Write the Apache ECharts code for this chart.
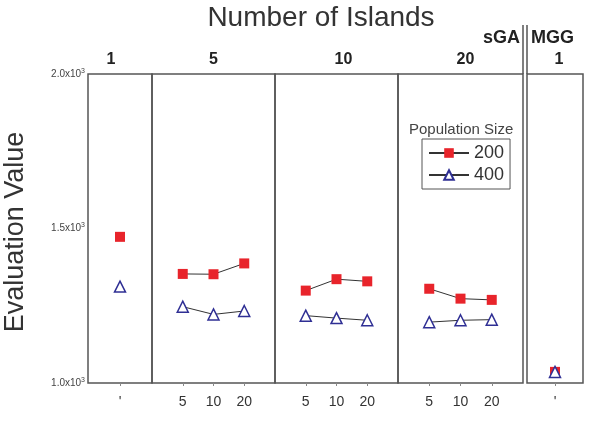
<!DOCTYPE html>
<html><head><meta charset="utf-8">
<script src="https://cdn.jsdelivr.net/npm/echarts@6/dist/echarts.min.js"></script>
<style>html,body{margin:0;padding:0;background:#fff}#c{width:592px;height:435px}</style>
</head><body><div id="c"></div>
<script>
// ---- data ----
const islandGroups = ['1', '5', '10', '20', '1'];
const panelCategories = [
  ["'"],
  ['5', '10', '20'],
  ['5', '10', '20'],
  ['5', '10', '20'],
  ["'"]
];
const pop200 = [[1473], [1353, 1352, 1387], [1299, 1336, 1329], [1305, 1273, 1269], [1036]];
const pop400 = [[1312], [1247, 1222, 1233], [1218, 1210, 1203], [1197, 1203, 1205], [1036]];
const seriesNames = ['200', '400'];
const yTicks = [1000, 1500, 2000];

// ---- layout ----
const gridLefts = [88, 152, 275, 398, 527];
const gridWidths = [64, 123, 123, 125, 56];
const groupNamePad = [[0, 18, 0, 0], [0, 0, 0, 0], [0, 0, 0, 14], [0, 0, 0, 10], [0, 0, 0, 8]];
const gridTop = 74, gridHeight = 309;

const grids = [], xAxes = [], yAxes = [], series = [];
const nP = islandGroups.length;
for (let i = 0; i < nP; i++) {
  grids.push({left: gridLefts[i], width: gridWidths[i], top: gridTop, height: gridHeight,
    show: true, borderColor: '#555', borderWidth: 1.5, backgroundColor: 'transparent'});
  const cats = [''].concat(panelCategories[i], ['']);
  xAxes.push({type: 'category', gridIndex: i, data: cats, boundaryGap: false,
    axisLine: {show: false},
    axisTick: {show: true, length: 3, interval: (idx, v) => v !== '', lineStyle: {color: '#888'}},
    axisLabel: {interval: 0, fontSize: 14, color: '#333', margin: 12, fontFamily: 'Liberation Sans'},
    splitLine: {show: false}});
}
for (let i = 0; i < nP; i++) {
  const cats = [''].concat(panelCategories[i], ['']);
  xAxes.push({type: 'category', gridIndex: i, data: cats, boundaryGap: false, position: 'top',
    axisLine: {show: false}, axisTick: {show: false}, axisLabel: {show: false},
    name: islandGroups[i], nameLocation: 'middle', nameGap: 6,
    nameTextStyle: {fontWeight: 'bold', fontSize: 16, color: '#222', fontFamily: 'Liberation Sans',
      padding: groupNamePad[i]}});
}
for (let i = 0; i < nP; i++) {
  yAxes.push({type: 'value', gridIndex: i, min: yTicks[0], max: yTicks[yTicks.length - 1],
    interval: yTicks[1] - yTicks[0],
    axisLine: {show: false}, splitLine: {show: false},
    axisTick: {show: false},
    axisLabel: {show: i === 0, margin: 3, fontSize: 10, color: '#444', fontFamily: 'Liberation Sans',
      formatter: v => (v / 1000).toFixed(1) + 'x10{s|3}',
      rich: {s: {fontSize: 7, verticalAlign: 'top', padding: [0, 0, 6, 0], color: '#444'}}}});
  const d200 = [null].concat(pop200[i], [null]);
  const d400 = [null].concat(pop400[i], [null]);
  series.push({type: 'line', name: seriesNames[0], xAxisIndex: i, yAxisIndex: i, data: d200,
    symbol: 'rect', symbolSize: 10, itemStyle: {color: '#e8242b'},
    lineStyle: {color: '#333', width: 1}, z: 2});
  series.push({type: 'line', name: seriesNames[1], xAxisIndex: i, yAxisIndex: i, data: d400,
    symbol: 'triangle', symbolSize: 11,
    itemStyle: {color: '#fff', borderColor: '#2f2f94', borderWidth: 1.5},
    lineStyle: {color: '#333', width: 1}, z: 3});
}

const chart = echarts.init(document.getElementById('c'), null, {renderer: 'canvas'});
chart.setOption({
  animation: false,
  backgroundColor: '#fff',
  title: {text: 'Number of Islands', left: 316, textAlign: 'center', top: -1,
    textStyle: {fontSize: 28, fontWeight: 'normal', color: '#333', fontFamily: 'Liberation Sans'}},
  legend: {data: seriesNames, orient: 'vertical', left: 422, top: 139,
    borderColor: '#555', borderWidth: 1, padding: [5, 6, 5, 6], itemGap: 4,
    itemWidth: 40, itemHeight: 12,
    textStyle: {fontSize: 18, color: '#333', fontFamily: 'Liberation Sans'}},
  grid: grids, xAxis: xAxes, yAxis: yAxes, series: series,
  graphic: [
    {type: 'text', x: 16, y: 232, rotation: Math.PI / 2,
      style: {text: 'Evaluation Value', fontSize: 27, fill: '#333', fontFamily: 'Liberation Sans',
        align: 'center', verticalAlign: 'middle'}},
    {type: 'text', left: 409, top: 122,
      style: {text: 'Population Size', fontSize: 15, fill: '#444', fontFamily: 'Liberation Sans'}},
    {type: 'text', right: 72, top: 29,
      style: {text: 'sGA', fontSize: 18, fontWeight: 'bold', fill: '#222', fontFamily: 'Liberation Sans'}},
    {type: 'text', left: 531, top: 29,
      style: {text: 'MGG', fontSize: 18, fontWeight: 'bold', fill: '#222', fontFamily: 'Liberation Sans'}},
    {type: 'line', shape: {x1: 523, y1: 25, x2: 523, y2: 74}, style: {stroke: '#555', lineWidth: 1.5}},
    {type: 'line', shape: {x1: 527, y1: 25, x2: 527, y2: 74}, style: {stroke: '#555', lineWidth: 1.5}}
  ]
});
</script></body></html>
